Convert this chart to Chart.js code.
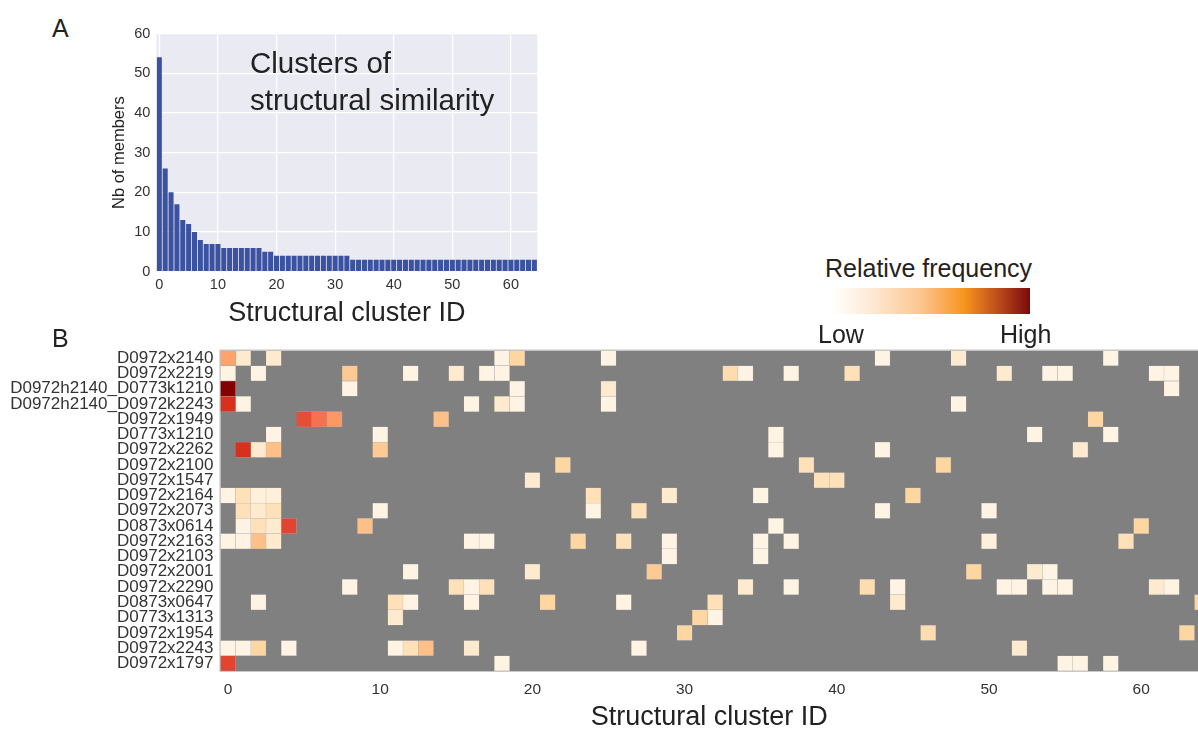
<!DOCTYPE html>
<html lang="en">
<head>
  <meta charset="UTF-8">
  <title>Clusters of structural similarity</title>
  <style>
    html, body {
      margin: 0;
      background: #fff;
      overflow: hidden;
      font-family: "Liberation Sans", Arial, sans-serif;
      color: #222;
    }
    body { width: 1198px; height: 731px; position: relative; }
    canvas { position: absolute; }
    #barChart { left: 100px; top: 20px; }
    #heatChart { left: 0; top: 340px; }
    .txt { position: absolute; white-space: nowrap; }
    .panel { font-size: 25px; line-height: 26px; }
    .note { left: 250px; top: 44px; font-size: 29.5px; line-height: 37px; color: #222; }
    .cb-title { left: 825px; top: 254px; font-size: 25px; line-height: 28px; }
    .cb-bar {
      position: absolute; left: 832px; top: 288px; width: 198px; height: 26px;
      background: linear-gradient(to right, #ffffff 0%, #fde7cf 22%, #fbc58f 45%, #f7941d 67%, #c4541b 82%, #7a0a0a 100%);
    }
    .cb-lab { top: 320px; font-size: 25px; line-height: 28px; }
  </style>
</head>
<body>
  <canvas id="barChart" width="440" height="307"></canvas>
  <canvas id="heatChart" width="1198" height="391"></canvas>

  <div class="txt panel" style="left:52px; top:15px;">A</div>
  <div class="txt panel" style="left:52px; top:325px;">B</div>
  <div class="txt note">Clusters of<br>structural similarity</div>
  <div class="txt cb-title">Relative frequency</div>
  <div class="cb-bar"></div>
  <div class="txt cb-lab" style="left:818px;">Low</div>
  <div class="txt cb-lab" style="left:1000px;">High</div>

  <script src="https://cdn.jsdelivr.net/npm/chart.js@4"></script>
  <script>
    // --- panel A: members per structural cluster ---
    const clusterSizes = [
      54, 26, 20, 17, 13, 12, 10, 8, 7, 7,
      7, 6, 6, 6, 6, 6, 6, 6, 5, 5,
      4, 4, 4, 4, 4, 4, 4, 4, 4, 4,
      4, 4, 4, 3, 3, 3, 3, 3, 3, 3,
      3, 3, 3, 3, 3, 3, 3, 3, 3, 3,
      3, 3, 3, 3, 3, 3, 3, 3, 3, 3,
      3, 3, 3, 3, 3
    ];
    const barTicks = [0, 10, 20, 30, 40, 50, 60];

    // --- panel B: relative frequency of each cluster per template ---
    const rowLabels = [
      'D0972x2140', 'D0972x2219', 'D0972h2140_D0773k1210', 'D0972h2140_D0972k2243',
      'D0972x1949', 'D0773x1210', 'D0972x2262', 'D0972x2100', 'D0972x1547',
      'D0972x2164', 'D0972x2073', 'D0873x0614', 'D0972x2163', 'D0972x2103',
      'D0972x2001', 'D0972x2290', 'D0873x0647', 'D0773x1313', 'D0972x1954',
      'D0972x2243', 'D0972x1797'
    ];
    // [cluster id, relative frequency 0..1] for each row
    const heatCells = [
      [[0,.44],[1,.1],[3,.1],[18,.03],[19,.24],[25,.03],[43,.03],[48,.1],[58,.03]],
      [[0,.03],[2,.03],[8,.3],[12,.03],[15,.1],[17,.03],[18,.03],[33,.2],[34,.03],[37,.03],[41,.17],[51,.1],[54,.03],[55,.03],[61,.03],[62,.03]],
      [[0,.98],[8,.03],[19,.03],[25,.1],[62,.03]],
      [[0,.75],[1,.03],[16,.03],[18,.1],[19,.03],[25,.03],[48,.03]],
      [[5,.68],[6,.58],[7,.47],[14,.35],[57,.24]],
      [[3,.03],[10,.03],[36,.03],[53,.03],[58,.03]],
      [[1,.75],[2,.1],[3,.35],[10,.3],[36,.03],[43,.03],[56,.1]],
      [[22,.24],[38,.17],[47,.24]],
      [[20,.1],[39,.17],[40,.17]],
      [[0,.03],[1,.17],[2,.06],[3,.06],[24,.17],[29,.1],[35,.03],[45,.24]],
      [[1,.17],[2,.1],[3,.17],[10,.03],[24,.03],[27,.17],[43,.03],[50,.03]],
      [[1,.03],[2,.17],[3,.1],[4,.7],[9,.35],[36,.03],[60,.24]],
      [[0,.03],[1,.03],[2,.35],[3,.1],[16,.03],[17,.03],[23,.24],[26,.17],[29,.03],[35,.03],[37,.03],[50,.06],[59,.17]],
      [[29,.03],[35,.03]],
      [[12,.03],[20,.1],[28,.3],[49,.24],[53,.1],[54,.03]],
      [[8,.03],[15,.17],[16,.03],[17,.17],[34,.1],[37,.03],[42,.2],[44,.03],[51,.03],[52,.03],[54,.03],[55,.03],[61,.1],[62,.03]],
      [[2,.03],[11,.17],[12,.03],[16,.03],[21,.24],[26,.03],[32,.17],[44,.1],[64,.24]],
      [[11,.1],[31,.24],[32,.03]],
      [[30,.24],[46,.2],[63,.24]],
      [[0,.03],[1,.03],[2,.24],[4,.03],[11,.03],[12,.17],[13,.35],[16,.1],[27,.03],[52,.1]],
      [[0,.7],[18,.03],[55,.03],[56,.03],[58,.03]]
    ];
    const heatTicks = [0, 10, 20, 30, 40, 50, 60];

    // OrRd-like colour ramp
    const ramp = ['#fff7ec', '#fee8c8', '#fdd49e', '#fdbb84', '#fc8d59', '#ef6548', '#d7301f', '#b30000', '#7f0000'];
    function hex(c) { return [1, 3, 5].map(i => parseInt(c.slice(i, i + 2), 16)); }
    function orRd(v) {
      const t = Math.max(0, Math.min(1, v)) * (ramp.length - 1);
      const i = Math.min(Math.floor(t), ramp.length - 2), f = t - i;
      const a = hex(ramp[i]), b = hex(ramp[i + 1]);
      return 'rgb(' + a.map((x, k) => Math.round(x + (b[k] - x) * f)).join(',') + ')';
    }

    // fills the plot area before grid and bars are drawn
    const plotBackground = {
      id: 'plotBackground',
      beforeDraw(chart, args, opts) {
        const { ctx, chartArea: a } = chart;
        ctx.save();
        ctx.fillStyle = opts.color;
        ctx.fillRect(a.left, a.top, a.right - a.left, a.bottom - a.top);
        if (opts.border) {
          ctx.strokeStyle = opts.border;
          ctx.lineWidth = 1;
          ctx.strokeRect(a.left - 0.5, a.top - 0.5, a.right - a.left + 1, a.bottom - a.top + 1);
        }
        ctx.restore();
      }
    };
    Chart.register(plotBackground);
    Chart.defaults.font.family = '"Liberation Sans", Arial, sans-serif';

    new Chart(document.getElementById('barChart'), {
      type: 'bar',
      data: {
        labels: clusterSizes.map((_, i) => String(i)),
        datasets: [{
          data: clusterSizes,
          backgroundColor: '#3b52a1',
          barPercentage: 0.86,
          categoryPercentage: 1
        }]
      },
      options: {
        responsive: false,
        animation: false,
        layout: { padding: { top: 13.5, right: 2.7, left: 0, bottom: 0 } },
        plugins: {
          legend: { display: false },
          tooltip: { enabled: false },
          plotBackground: { color: '#eaeaf2' }
        },
        scales: {
          x: {
            grid: { color: '#ffffff', lineWidth: 1.2, offset: false, drawTicks: false },
            border: { display: false },
            ticks: {
              autoSkip: false, maxRotation: 0, padding: 5,
              font: { size: 14.5 }, color: '#333',
              callback: (v, i) => barTicks.includes(i) ? String(i) : null
            },
            title: { display: true, text: 'Structural cluster ID', font: { size: 27, lineHeight: 1 }, padding: 0, color: '#222' },
            afterFit: s => { s.height = 55.3; s.paddingLeft = 0; s.paddingRight = 0; }
          },
          y: {
            min: 0, max: 60,
            ticks: { stepSize: 10, padding: 6, font: { size: 14.5 }, color: '#333' },
            grid: { color: '#ffffff', lineWidth: 1.2, drawTicks: false },
            border: { display: false },
            title: { display: true, text: 'Nb of members', font: { size: 16.5, lineHeight: 1 }, padding: { top: 11.2, bottom: 0 }, color: '#222' },
            afterFit: s => { s.width = 56.4; s.paddingTop = 0; s.paddingBottom = 0; }
          }
        }
      }
    });

    // one floating-bar dataset per cluster column, one category per row
    const nCols = clusterSizes.length;
    const heatDatasets = [];
    for (let c = 0; c < nCols; c++) {
      const data = [], colors = [];
      heatCells.forEach(row => {
        const hit = row.find(p => p[0] === c);
        data.push(hit ? [c - 0.5, c + 0.5] : null);
        colors.push(hit ? orRd(hit[1]) : 'rgba(0,0,0,0)');
      });
      if (data.some(d => d)) {
        heatDatasets.push({
          data,
          backgroundColor: colors,
          borderColor: 'rgba(190,190,190,0.6)',
          borderWidth: 0.5,
          grouped: false,
          barPercentage: 1,
          categoryPercentage: 1
        });
      }
    }

    new Chart(document.getElementById('heatChart'), {
      type: 'bar',
      data: { labels: rowLabels, datasets: heatDatasets },
      options: {
        indexAxis: 'y',
        responsive: false,
        animation: false,
        layout: { padding: { top: 10.5, right: 0, left: 0, bottom: 0 } },
        plugins: {
          legend: { display: false },
          tooltip: { enabled: false },
          plotBackground: { color: '#808080', border: '#c8c8c8' }
        },
        scales: {
          x: {
            type: 'linear',
            min: -0.5, max: 63.73,
            afterBuildTicks: s => { s.ticks = heatTicks.map(v => ({ value: v })); },
            grid: { display: false, drawTicks: false },
            border: { display: false },
            ticks: { padding: 9, font: { size: 15.5 }, color: '#333' },
            title: { display: true, text: 'Structural cluster ID', font: { size: 27, lineHeight: 1 }, padding: 0, color: '#222' },
            afterFit: s => { s.height = 60; s.paddingLeft = 0; s.paddingRight = 0; }
          },
          y: {
            grid: { display: false, drawTicks: false },
            border: { display: false },
            ticks: { padding: 7, autoSkip: false, font: { size: 17 }, color: '#333' },
            afterFit: s => { s.width = 220.4; s.paddingTop = 0; s.paddingBottom = 0; }
          }
        }
      }
    });
  </script>
</body>
</html>
